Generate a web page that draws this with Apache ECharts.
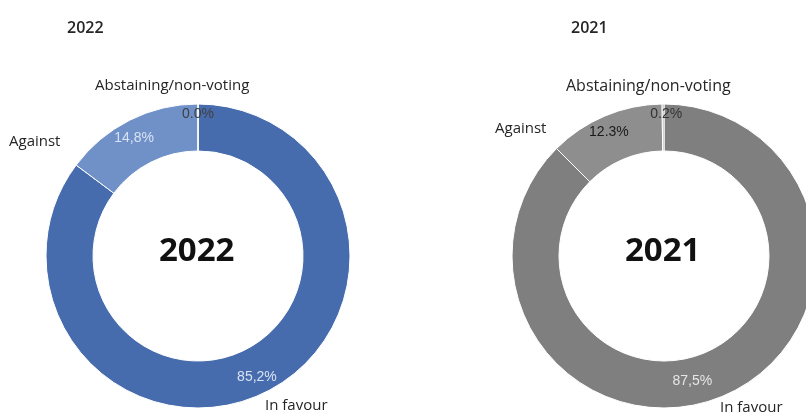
<!DOCTYPE html>
<html><head><meta charset="utf-8">
<script src="https://cdn.jsdelivr.net/npm/echarts@6/dist/echarts.min.js"></script>
<style>html,body{margin:0;padding:0;background:#fff}#c{width:806px;height:418px}</style>
</head><body><div id="c"></div>
<script>
var categories = ['In favour', 'Against', 'Abstaining/non-voting'];
var years = ['2022', '2021'];
var values2022 = [85.2, 14.8, 0.0];
var values2021 = [87.5, 12.3, 0.2];
var labels2022 = ['85,2%', '14,8%', '0.0%'];
var labels2021 = ['87,5%', '12.3%', '0.2%'];

var chart = echarts.init(document.getElementById('c'), null, {renderer: 'canvas'});

function makePie(vals, labs, center, colors, labColors, offsets) {
  return {
    type: 'pie', center: center, radius: [105, 152], startAngle: 90, clockwise: true,
    avoidLabelOverlap: false, silent: true, animation: false,
    itemStyle: {borderColor: '#ffffff', borderWidth: 1},
    labelLine: {show: false},
    data: vals.map(function (v, i) {
      return {
        name: categories[i], value: v,
        itemStyle: {color: colors[i]},
        label: {show: true, position: 'inside', formatter: labs[i], color: labColors[i],
          fontFamily: 'Liberation Sans, Arial, sans-serif', fontSize: 14, offset: offsets[i]}
      };
    })
  };
}

var nameFont = 'Open Sans, DejaVu Sans, sans-serif';
function txt(x, y, s, size, weight) {
  return {type: 'text', left: x, top: y, style: {text: s, fill: '#262626', font: (weight || 'normal') + ' ' + size + 'px ' + nameFont}};
}

chart.setOption({
  animation: false,
  series: [
    makePie(values2022, labels2022, [198, 256], ['#476cae', '#6f91c8', '#9db4da'],
      ['#d9e2f2', '#d9e2f2', '#404040'], [[0, 4], [-5, 0], [0, -10]]),
    makePie(values2021, labels2021, [664, 256], ['#7f7f7f', '#8e8e8e', '#a6a6a6'],
      ['#e6e6e6', '#1a1a1a', '#333333'], [[-22, 4], [-4, -3], [3, -10]])
  ],
  graphic: [
    txt(67, 20, years[0], 16, '600'),
    txt(571, 20, years[1], 16, '600'),
    {type: 'text', left: 159, top: 235, style: {text: years[0], fill: '#111', font: 'bold 33px Open Sans, DejaVu Sans, sans-serif'}},
    {type: 'text', left: 625, top: 235, style: {text: years[1], fill: '#111', font: 'bold 33px Open Sans, DejaVu Sans, sans-serif'}},
    txt(95, 78, categories[2], 15),
    txt(9, 134, categories[1], 15),
    txt(265, 398, categories[0], 15),
    txt(566, 78, categories[2], 16),
    txt(495, 121, categories[1], 15),
    txt(720, 400, categories[0], 15)
  ]
});
</script></body></html>
